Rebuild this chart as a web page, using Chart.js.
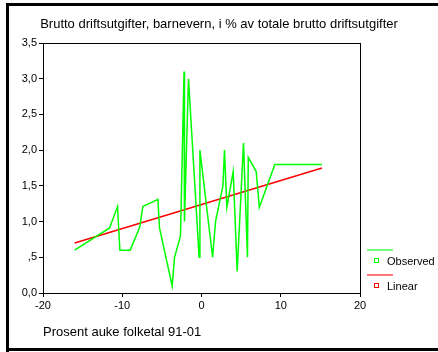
<!DOCTYPE html>
<html>
<head>
<meta charset="utf-8">
<script src="https://cdn.jsdelivr.net/npm/chart.js@4"></script>
<style>
  html, body { margin: 0; padding: 0; background: #fff; }
  #wrap { width: 438px; height: 352px; position: relative; }
</style>
</head>
<body>
<div id="wrap"><canvas id="chart" width="438" height="352"></canvas></div>
<script>
// Observed: x = prosent auke folketal, y = % barnevern
const obsX = [-16, -11.6, -10.6, -10.3, -9.0, -7.8, -7.4, -5.5, -5.3, -3.7, -3.4, -2.65, -2.2, -2.15, -1.64,
  -0.3, -0.2, 1.4, 1.77, 2.7, 2.9, 3.2, 4.0, 4.5, 5.3, 5.8, 5.9, 6.9, 7.3, 9.25, 15.2];
const obsY = [0.6, 0.91, 1.21, 0.6, 0.6, 0.92, 1.21, 1.31, 0.91, 0.1, 0.5, 0.8, 3.1, 1.0, 3.0,
  0.5, 2.0, 0.5, 1.0, 1.5, 2.0, 1.2, 1.7, 0.3, 2.1, 0.5, 1.9, 1.7, 1.2, 1.8, 1.8];
// Linear fit, read at the two ends
const linX = [-16, 15.2];
const linY = [0.70, 1.75];

const xTicks = [-20, -10, 0, 10, 20];
const yTickLabels = ['0,0', ',5', '1,0', '1,5', '2,0', '2,5', '3,0', '3,5'];

const fontFamily = '"Liberation Sans", Arial, sans-serif';

function toPoints(xs, ys) {
  return xs.map((x, i) => ({ x: x, y: ys[i] }));
}

// frame, plot box and legend
const decorPlugin = {
  id: 'decor',
  beforeDraw(chart) {
    const ctx = chart.ctx;
    ctx.save();
    ctx.fillStyle = '#000';
    ctx.fillRect(6, 3, 432, 3);   // top
    ctx.fillRect(6, 3, 3, 349);   // left
    ctx.fillRect(6, 348, 432, 3); // bottom
    ctx.restore();
  },
  afterDatasetsDraw(chart) {
    const ctx = chart.ctx;
    const a = chart.chartArea;
    ctx.save();
    ctx.strokeStyle = '#000';
    ctx.lineWidth = 1;
    ctx.strokeRect(Math.round(a.left) + 0.5, Math.round(a.top) + 0.5,
      Math.round(a.right - a.left), Math.round(a.bottom - a.top));

    const items = [
      { label: 'Observed', color: '#00ff00', lineY: 250, markY: 261 },
      { label: 'Linear', color: '#ff0000', lineY: 275, markY: 286 }
    ];
    ctx.font = '11px ' + fontFamily;
    ctx.textBaseline = 'middle';
    items.forEach(it => {
      ctx.strokeStyle = it.color;
      ctx.globalAlpha = 0.7;
      ctx.lineWidth = 1.5;
      ctx.beginPath();
      ctx.moveTo(367, it.lineY);
      ctx.lineTo(393, it.lineY);
      ctx.stroke();
      ctx.globalAlpha = 1;
      ctx.lineWidth = 1;
      ctx.strokeRect(374.5, it.markY - 2.5, 4, 4);
      ctx.fillStyle = '#000';
      ctx.fillText(it.label, 387, it.markY + 1);
    });
    ctx.restore();
  }
};

new Chart(document.getElementById('chart'), {
  type: 'scatter',
  data: {
    datasets: [
      {
        label: 'Observed',
        data: toPoints(obsX, obsY),
        showLine: true,
        borderColor: '#00ff00',
        borderWidth: 1.5,
        pointRadius: 0,
        tension: 0
      },
      {
        label: 'Linear',
        data: toPoints(linX, linY),
        showLine: true,
        borderColor: '#ff0000',
        borderWidth: 1.5,
        pointRadius: 0,
        tension: 0
      }
    ]
  },
  options: {
    responsive: false,
    animation: false,
    layout: { padding: 0 },
    plugins: {
      legend: { display: false },
      tooltip: { enabled: false },
      title: {
        display: true,
        text: 'Brutto driftsutgifter, barnevern, i % av totale brutto driftsutgifter',
        color: '#000',
        font: { family: fontFamily, size: 13, weight: 'normal', lineHeight: 1.2 },
        padding: { top: 16.5, bottom: 10.9 }
      }
    },
    scales: {
      x: {
        type: 'linear',
        min: -20,
        max: 20,
        afterBuildTicks(scale) {
          scale.ticks = xTicks.map(v => ({ value: v }));
        },
        afterFit(scale) { scale.height = 59; },
        ticks: {
          color: '#000',
          padding: 2,
          maxRotation: 0,
          font: { family: fontFamily, size: 11 },
          callback: v => String(v)
        },
        grid: { drawOnChartArea: false, tickLength: 4, color: '#000' },
        border: { display: true, color: '#000' },
        title: {
          display: true,
          align: 'start',
          text: 'Prosent auke folketal 91-01',
          color: '#000',
          font: { family: fontFamily, size: 13, lineHeight: 1.2 },
          padding: { top: 0, bottom: 12.2 }
        }
      },
      y: {
        type: 'linear',
        min: 0,
        max: 3.5,
        afterBuildTicks(scale) {
          scale.ticks = yTickLabels.map((t, i) => ({ value: i * 0.5 }));
        },
        afterFit(scale) { scale.width = 43; },
        ticks: {
          color: '#000',
          padding: 2,
          font: { family: fontFamily, size: 11 },
          callback: (v, i) => yTickLabels[i]
        },
        grid: { drawOnChartArea: false, tickLength: 4, color: '#000' },
        border: { display: true, color: '#000' }
      },
      // empty right axis that only reserves the legend space
      yRight: {
        type: 'linear',
        position: 'right',
        min: 0,
        max: 3.5,
        display: true,
        afterFit(scale) { scale.width = 78; },
        ticks: { display: false },
        grid: { display: false },
        border: { display: false }
      }
    }
  },
  plugins: [decorPlugin]
});
</script>
</body>
</html>
